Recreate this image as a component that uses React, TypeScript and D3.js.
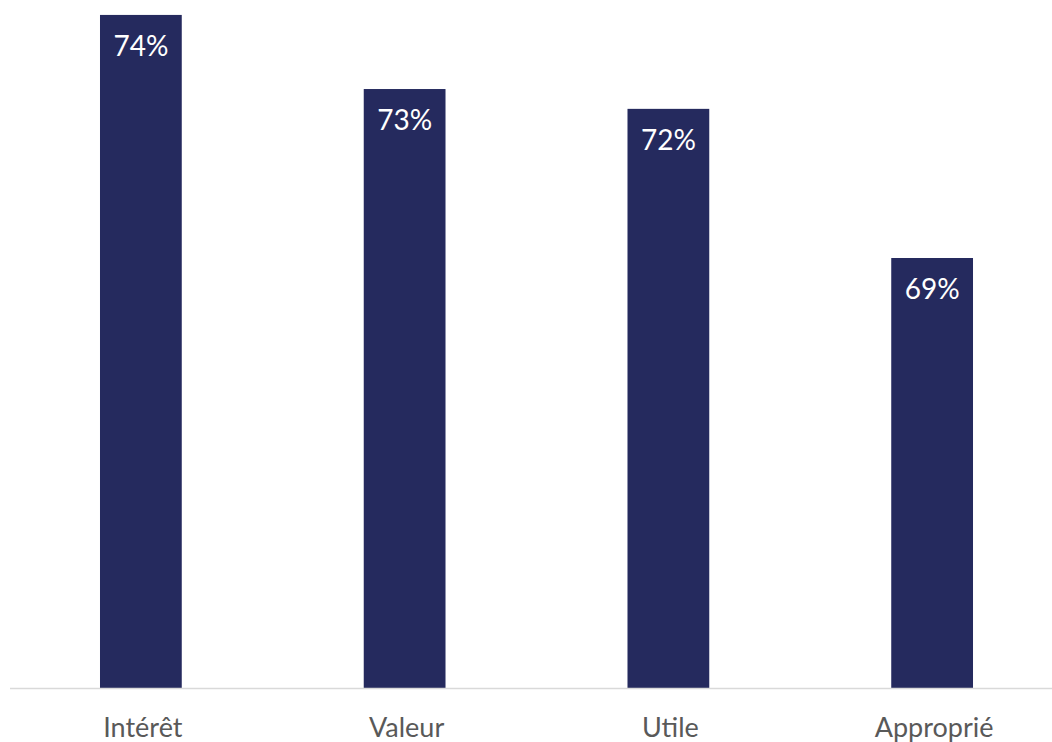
import React from "react";
import * as d3 from "d3";

const categories = ["Intérêt", "Valeur", "Utile", "Approprié"];
const values = [74.26, 72.69, 72.27, 69.11];

const W = 1052;
const H = 742;
const baseY = 688;

export default function App() {
  const x = d3
    .scaleBand<string>()
    .domain(categories)
    .range([9, 1064])
    .paddingInner(0.69)
    .paddingOuter(0.345);
  const y = d3.scaleLinear().domain([60, 60 + 688 / 47.2]).range([baseY, 0]);
  const bw = x.bandwidth();
  return (
    <svg
      width={W}
      height={H}
      style={{ position: "absolute", left: 0, top: 0, background: "#fff" }}
    >
      {categories.map((c, i) => {
        const x0 = x(c)!;
        const top = y(values[i]);
        return (
          <g key={c}>
            <rect x={x0} y={top} width={bw} height={baseY - top} fill="#252A5E" />
            <text
              x={x0 + bw / 2}
              y={top + 41}
              textAnchor="middle"
              fill="#ffffff"
              fontFamily="Lato, 'Open Sans', sans-serif"
              fontSize={28}
            >
              {d3.format(".0f")(values[i]) + "%"}
            </text>
            <text
              x={x0 + bw / 2 + 2}
              y={737}
              textAnchor="middle"
              fill="#595959"
              fontFamily="Lato, 'Open Sans', sans-serif"
              fontSize={27}
            >
              {c}
            </text>
          </g>
        );
      })}
      <line x1={10} x2={W} y1={baseY + 0.5} y2={baseY + 0.5} stroke="#D9D9D9" strokeWidth={1.5} />
    </svg>
  );
}
